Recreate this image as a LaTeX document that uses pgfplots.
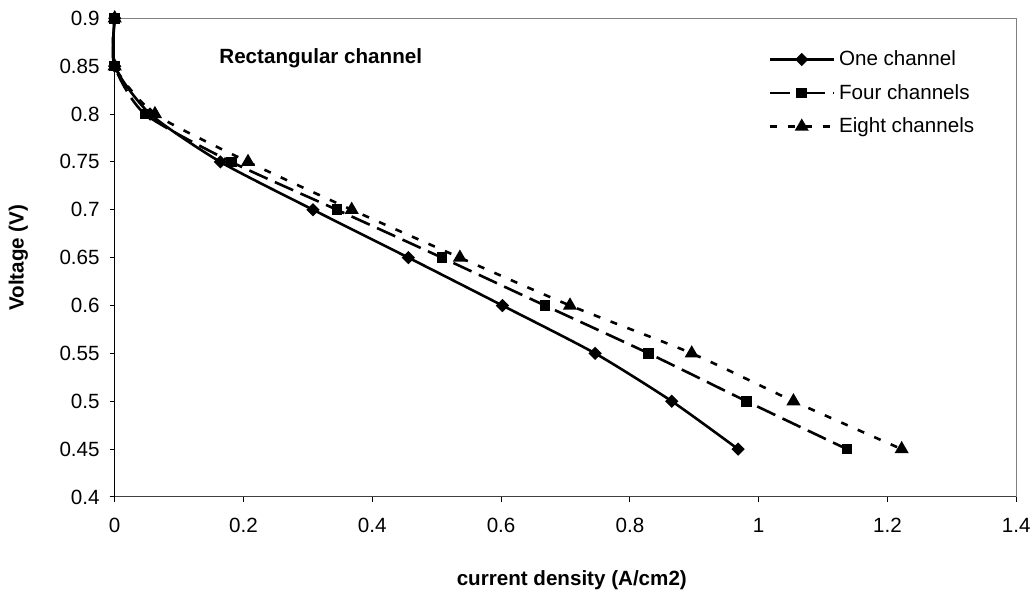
\documentclass[border=0pt]{standalone}
\usepackage{pgfplots}
\pgfplotsset{compat=1.18}
\usepackage{fontspec}
\setmainfont{Liberation Sans}
\newcommand{\fs}{\fontsize{10.3}{12}\selectfont}
\begin{document}
\begin{tikzpicture}
\path[use as bounding box] (-57.35pt,-47.5pt) rectangle (459.65pt,248.5pt);
\begin{axis}[
  at={(0,0)}, anchor=south west,
  scale only axis, width=450.8pt, height=239.35pt,
  xmin=0, xmax=1.4, ymin=0.4, ymax=0.9,
  xtick={0,0.2,0.4,0.6,0.8,1,1.2,1.4},
  ytick={0.4,0.45,0.5,0.55,0.6,0.65,0.7,0.75,0.8,0.85,0.9},
  /pgf/number format/assume math mode=true,
  /pgf/number format/fixed, /pgf/number format/precision=2,
  ticklabel style={font=\fs},
  xticklabel style={yshift=-4.5pt},
  yticklabel style={xshift=-1.5pt},
  tick align=outside, tick pos=left, major tick length=2.5pt,
  tick style={black, line width=0.5pt},
  axis line style={gray, line width=0.5pt},
  clip=false,
  xlabel={\bfseries current density (A/cm2)},
  ylabel={\bfseries Voltage (V)},
  xlabel style={font=\fs, at={(axis description cs:0.507,-0.173)}, anchor=center},
  ylabel style={font=\fs, at={(axis description cs:-0.107,0.5)}, anchor=center},
  legend style={draw=none, fill=none, font=\fs, at={(rel axis cs:0.718,0.95)}, anchor=north west,
    row sep=3.8pt, cells={anchor=west}},
  legend image code/.code={%
    \draw (0pt,0pt) -- (14.5pt,0pt);
    \draw (17.5pt,0pt) -- (32pt,0pt);
    \draw[only marks] plot coordinates {(16pt,0pt)};},
]
\draw[black!75, line width=0.5pt] (rel axis cs:0,0) -- (rel axis cs:1,0);
\draw[black, line width=0.5pt] (rel axis cs:0,0) -- (rel axis cs:0,1);
\addplot[black, line width=1.3pt, smooth, tension=0.4, mark=square*, mark options={solid, rotate=45, scale=0.85}, mark size=2pt]
coordinates {(0,0.9)(0,0.85)(0.055,0.8)(0.164,0.75)(0.308,0.7)(0.456,0.65)(0.602,0.6)(0.746,0.55)(0.865,0.5)(0.968,0.45)};
\addlegendentry{One channel}
\addplot[black, line width=1.3pt, smooth, tension=0.4, dash pattern=on 10pt off 4pt, mark=square*, mark options={solid}, mark size=2pt]
coordinates {(0,0.9)(0,0.85)(0.047,0.8)(0.181,0.75)(0.345,0.7)(0.508,0.65)(0.668,0.6)(0.829,0.55)(0.981,0.5)(1.137,0.45)};
\addlegendentry{Four channels}
\addplot[black, line width=1.3pt, smooth, tension=0.4, dash pattern=on 3.5pt off 5.5pt, mark=triangle*, mark options={solid}, mark size=2.8pt]
coordinates {(0,0.9)(0,0.85)(0.0625,0.8)(0.207,0.75)(0.368,0.7)(0.536,0.65)(0.707,0.6)(0.896,0.55)(1.054,0.5)(1.222,0.45)};
\addlegendentry{Eight channels}
\node[anchor=west, inner sep=0pt, font=\fs\bfseries] at (rel axis cs:0.1157,0.917) {Rectangular channel};
\end{axis}
\end{tikzpicture}
\end{document}
